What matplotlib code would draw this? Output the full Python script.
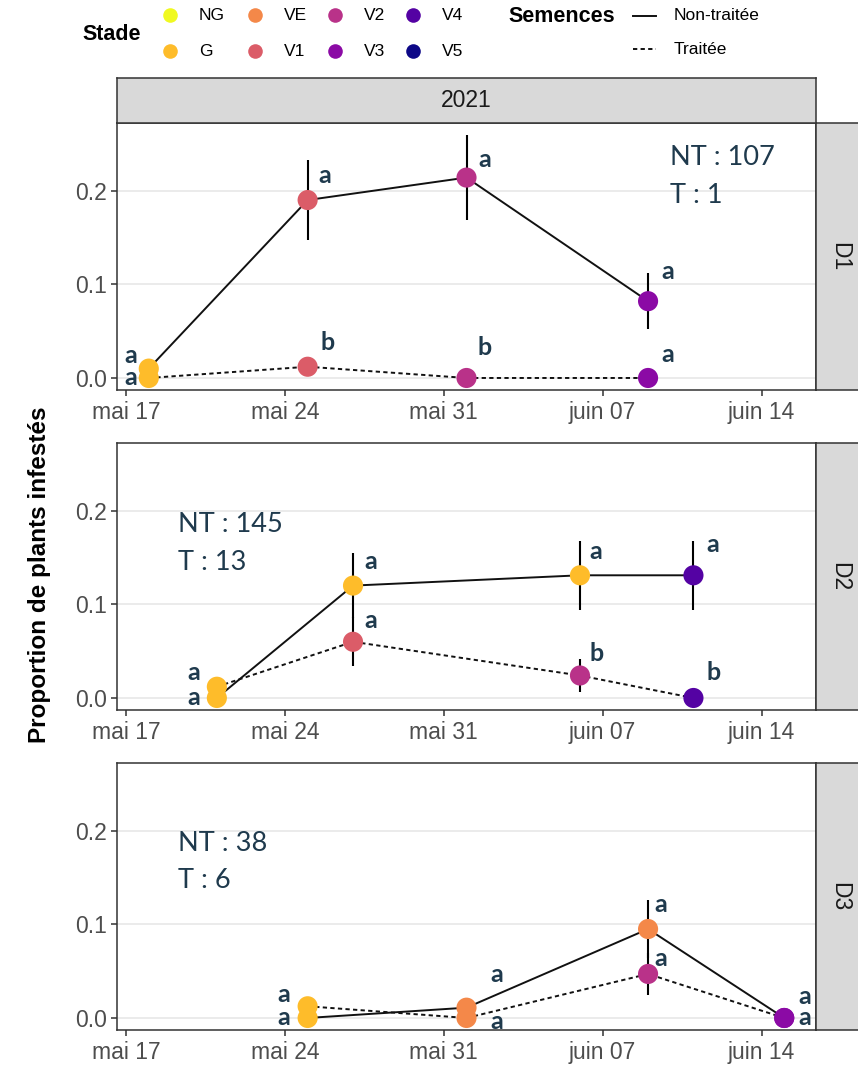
import matplotlib
matplotlib.use("Agg")
import matplotlib.pyplot as plt
import matplotlib.dates as mdates
from matplotlib.lines import Line2D
from matplotlib.patches import Rectangle
import numpy as np
import pandas as pd

# ---------------- data ----------------
stages = ["NG", "G", "VE", "V1", "V2", "V3", "V4", "V5"]
stage_colors = ["#F0F921", "#FEBC2A", "#F48849", "#DB5C68",
                "#B93289", "#8B0AA5", "#5402A3", "#0D0887"]

panels = ["D1", "D2", "D3"]
year_label = "2021"

# D1
d1_dates = ["2021-05-18", "2021-05-25", "2021-06-01", "2021-06-09"]
d1_nt_prop = [0.010, 0.190, 0.214, 0.082]
d1_nt_se = [0.0, 0.043, 0.045, 0.030]
d1_nt_stage = ["G", "V1", "V2", "V3"]
d1_nt_letters = ["a", "a", "a", "a"]
d1_t_prop = [0.0, 0.012, 0.0, 0.0]
d1_t_se = [0.0, 0.0, 0.0, 0.0]
d1_t_stage = ["G", "V1", "V2", "V3"]
d1_t_letters = ["a", "b", "b", "a"]
d1_counts = ("NT : 107", "T : 1")

# D2
d2_dates = ["2021-05-21", "2021-05-27", "2021-06-06", "2021-06-11"]
d2_nt_prop = [0.0, 0.120, 0.131, 0.131]
d2_nt_se = [0.0, 0.035, 0.037, 0.037]
d2_nt_stage = ["G", "G", "G", "V4"]
d2_nt_letters = ["a", "a", "a", "a"]
d2_t_prop = [0.012, 0.060, 0.024, 0.0]
d2_t_se = [0.0, 0.026, 0.0175, 0.0]
d2_t_stage = ["G", "V1", "V2", "V4"]
d2_t_letters = ["a", "a", "b", "b"]
d2_counts = ("NT : 145", "T : 13")

# D3
d3_dates = ["2021-05-25", "2021-06-01", "2021-06-09", "2021-06-15"]
d3_nt_prop = [0.0, 0.011, 0.095, 0.0]
d3_nt_se = [0.0, 0.0, 0.031, 0.0]
d3_nt_stage = ["G", "VE", "VE", "V3"]
d3_nt_letters = ["a", "a", "a", "a"]
d3_t_prop = [0.0125, 0.0, 0.047, 0.0]
d3_t_se = [0.0, 0.0, 0.022, 0.0]
d3_t_stage = ["G", "VE", "V2", "V3"]
d3_t_letters = ["a", "a", "a", "a"]
d3_counts = ("NT : 38", "T : 6")

y_ticks = [0.0, 0.1, 0.2]
y_tick_labels = ["0.0", "0.1", "0.2"]
month_fr = {5: "mai", 6: "juin"}

series = {
    "D1": (d1_dates, d1_nt_prop, d1_nt_se, d1_nt_stage, d1_nt_letters,
           d1_t_prop, d1_t_se, d1_t_stage, d1_t_letters, d1_counts),
    "D2": (d2_dates, d2_nt_prop, d2_nt_se, d2_nt_stage, d2_nt_letters,
           d2_t_prop, d2_t_se, d2_t_stage, d2_t_letters, d2_counts),
    "D3": (d3_dates, d3_nt_prop, d3_nt_se, d3_nt_stage, d3_nt_letters,
           d3_t_prop, d3_t_se, d3_t_stage, d3_t_letters, d3_counts),
}

# ---------------- layout (pixels) ----------------
W, H = 858, 1071
color_of = dict(zip(stages, stage_colors))
TXT = "#1F3A4D"
GREY20 = "#333333"
GREY30 = "#4D4D4D"
STRIP = "#D9D9D9"
TICK_FONT = ["Liberation Sans", "DejaVu Sans"]
ANNOT_FONT = ["Lato", "DejaVu Sans"]

# letter offsets (pixels) for each point: non-treated / treated
letter_offsets = {
    "D1": ([(-18, 13), (17, 25), (18, 18), (20, 30)],
           [(-18, 0), (20, 24), (18, 30), (20, 23)]),
    "D2": ([(-23, 0), (18, 24), (16, 24), (19, 31)],
           [(-23, 14), (18, 21), (17, 22), (20, 25)]),
    "D3": ([(-24, 0), (30, 33), (13, 25), (21, 0)],
           [(-24, 12), (30, -4), (13, 15), (21, 21)]),
}
# position of the "NT / T" counts (axes fraction, left x, y of each line)
count_pos = {"D1": (0.791, 0.870, 0.731),
             "D2": (0.087, 0.694, 0.552),
             "D3": (0.087, 0.701, 0.559)}

fig = plt.figure(figsize=(W / 100, H / 100), dpi=100)


def px_rect(left, top, right, bottom):
    return [left / W, 1 - bottom / H, (right - left) / W, (bottom - top) / H]


# shared scales with ggplot-like 5% expansion
all_dates = pd.to_datetime(d1_dates + d2_dates + d3_dates)
dnum = mdates.date2num(all_dates)
dspan = dnum.max() - dnum.min()
xlim = (dnum.min() - 0.05 * dspan, dnum.max() + 0.05 * dspan)
ymax = max(max(np.add(p, s)) for p, s in [(d1_nt_prop, d1_nt_se), (d2_nt_prop, d2_nt_se),
                                          (d3_nt_prop, d3_nt_se), (d1_t_prop, d1_t_se),
                                          (d2_t_prop, d2_t_se), (d3_t_prop, d3_t_se)])
ylim = (-0.05 * ymax, ymax * 1.05)

panel_left, panel_right = 117, 816
panel_h = 266.8
panel_tops = [123.3, 443.3, 763.3]


def fr_date(x, pos=None):
    d = mdates.num2date(x)
    return f"{month_fr.get(d.month, '')} {d.day:02d}"


axes = []
for k, name in enumerate(panels):
    top = panel_tops[k]
    ax = fig.add_axes(px_rect(panel_left, top, panel_right, top + panel_h))
    axes.append(ax)
    (dates, nt_p, nt_se, nt_st, nt_let, t_p, t_se, t_st, t_let, counts) = series[name]
    x = mdates.date2num(pd.to_datetime(dates))

    ax.set_xlim(*xlim)
    ax.set_ylim(*ylim)
    ax.set_yticks(y_ticks)
    ax.set_yticklabels(y_tick_labels)
    ax.xaxis.set_major_locator(mdates.WeekdayLocator(byweekday=mdates.MO))
    ax.xaxis.set_major_formatter(plt.FuncFormatter(fr_date))
    ax.grid(axis="y", color="#EBEBEB", linewidth=1.4, zorder=0)
    ax.set_axisbelow(True)
    for sp in ax.spines.values():
        sp.set_color(GREY20)
        sp.set_linewidth(1.1)
    ax.tick_params(axis="both", direction="out", length=4.5, width=1.1,
                   color=GREY20, labelcolor=GREY30, labelsize=16.5, pad=3)
    for lab in ax.get_xticklabels() + ax.get_yticklabels():
        lab.set_family(TICK_FONT)

    # error bars
    for p, s in ((nt_p, nt_se), (t_p, t_se)):
        p = np.asarray(p)
        s = np.asarray(s)
        m = s > 0
        ax.vlines(x[m], (p - s)[m], (p + s)[m], color="black", linewidth=1.5, zorder=2)

    # lines
    ax.plot(x, nt_p, color="#111111", linewidth=1.4, linestyle="-", zorder=3)
    ax.plot(x, t_p, color="#111111", linewidth=1.4, linestyle=(0, (2.2, 1.7)), zorder=3)

    # points
    for p, st in ((nt_p, nt_st), (t_p, t_st)):
        ax.scatter(x, p, s=210, c=[color_of[v] for v in st], edgecolors="none", zorder=4)

    # significance letters
    offs_nt, offs_t = letter_offsets[name]
    for p, lets, offs in ((nt_p, nt_let, offs_nt), (t_p, t_let, offs_t)):
        for xi, yi, lt, (dx, dy) in zip(x, p, lets, offs):
            ax.annotate(lt, (xi, yi), xytext=(dx, dy), textcoords="offset pixels",
                        ha="center", va="center", fontsize=18, fontweight="bold",
                        color=TXT, family=ANNOT_FONT, zorder=5, annotation_clip=False)

    # counts
    cx, cy1, cy2 = count_pos[name]
    ax.text(cx, cy1, counts[0], transform=ax.transAxes, ha="left", va="center",
            fontsize=19.5, color=TXT, family=ANNOT_FONT)
    ax.text(cx, cy2, counts[1], transform=ax.transAxes, ha="left", va="center",
            fontsize=19.5, color=TXT, family=ANNOT_FONT)

    # right facet strip
    sax = fig.add_axes(px_rect(panel_right, top, panel_right + 48, top + panel_h))
    sax.set_facecolor(STRIP)
    sax.set_xticks([])
    sax.set_yticks([])
    for sp in sax.spines.values():
        sp.set_color(GREY20)
        sp.set_linewidth(1.1)
    sax.text(24 / 48, 0.5, name, transform=sax.transAxes, rotation=-90,
             ha="center", va="center", fontsize=16.5, color="#1A1A1A", family=TICK_FONT)

# top strip
tax = fig.add_axes(px_rect(panel_left, 78, panel_right, panel_tops[0]))
tax.set_facecolor(STRIP)
tax.set_xticks([])
tax.set_yticks([])
for sp in tax.spines.values():
    sp.set_color(GREY20)
    sp.set_linewidth(1.1)
tax.text(0.5, 0.5, year_label, transform=tax.transAxes, ha="center", va="center",
         fontsize=16.5, color="#1A1A1A", family=TICK_FONT)

# y label
fig.text(40 / W, 1 - 575 / H, "Proportion de plants infestés", rotation=90,
         ha="center", va="center", fontsize=17.5, fontweight="bold",
         color="black", family=TICK_FONT)

# ---------------- legends ----------------
def fx(px):
    return px / W


def fy(py):
    return 1 - py / H


fig.text(fx(82), fy(35), "Stade", ha="left", va="center", fontsize=15.5,
         fontweight="bold", family=TICK_FONT)
col_x = [170, 255, 335, 413]
row_y = [15, 51]
for i, (st, colr) in enumerate(zip(stages, stage_colors)):
    c, r = divmod(i, 2)
    fig.add_artist(Line2D([fx(col_x[c])], [fy(row_y[r])], marker="o", markersize=10.5,
                          color=colr, markeredgewidth=0, linestyle="none",
                          transform=fig.transFigure))
    fig.text(fx(col_x[c] + 29), fy(row_y[r]), st, ha="left", va="center",
             fontsize=12.5, family=TICK_FONT, color="black")

fig.text(fx(508), fy(16), "Semences", ha="left", va="center", fontsize=15.5,
         fontweight="bold", family=TICK_FONT)
seed_labels = ["Non-traitée", "Traitée"]
seed_styles = ["-", (0, (2.2, 1.7))]
for r, (lab, ls) in enumerate(zip(seed_labels, seed_styles)):
    yy = [16, 49][r]
    fig.add_artist(Line2D([fx(633), fx(656)], [fy(yy), fy(yy)], color="#111111",
                          linewidth=1.4, linestyle=ls, transform=fig.transFigure))
    fig.text(fx(674), fy(yy), lab, ha="left", va="center", fontsize=12.5,
             family=TICK_FONT, color="black")

fig.savefig("out.png", dpi=100)
